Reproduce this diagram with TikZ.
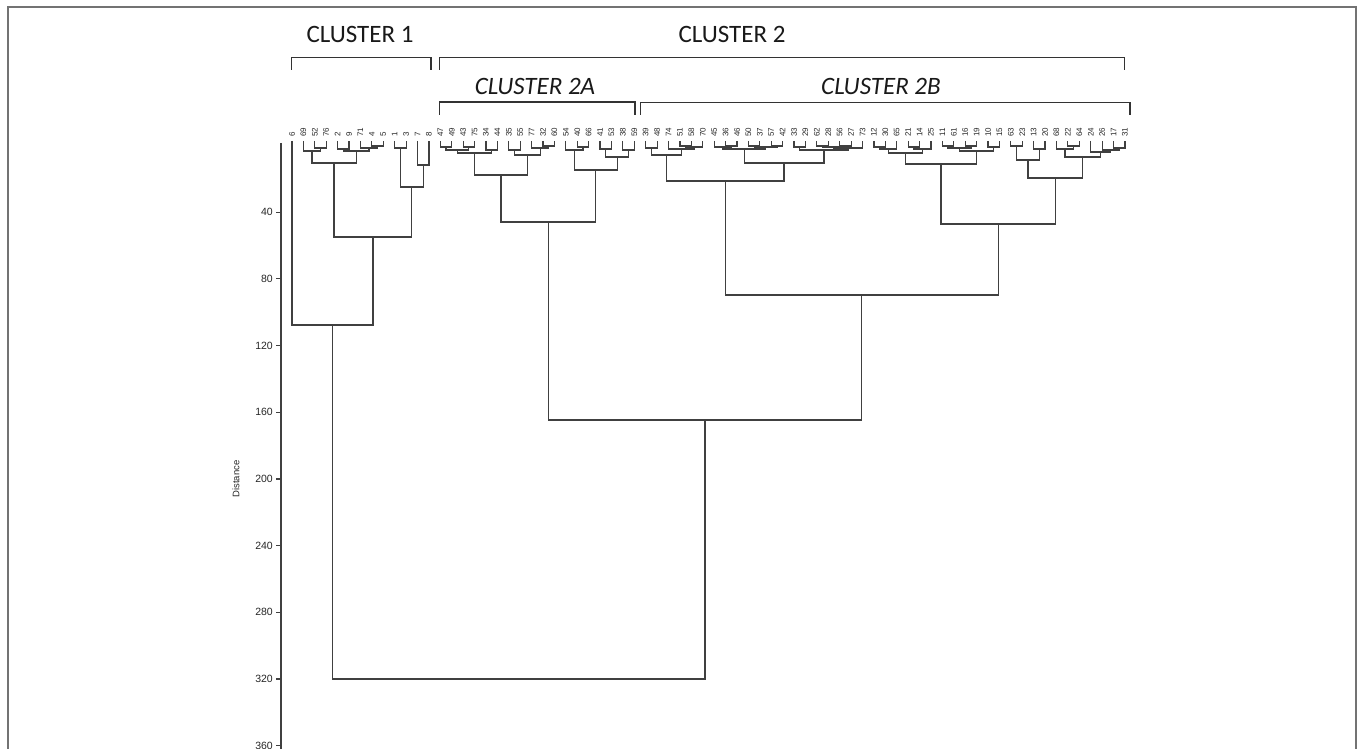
\documentclass[tikz,border=0pt]{standalone}
\usepackage{fontspec}
\setmainfont{Liberation Sans}
\newfontfamily\calib{Carlito}
\usetikzlibrary{calc}
\tikzset{
  tree/.style={draw=black!75, line width=1.2pt},
  brk/.style={draw=black!80, line width=1.5pt},
  framel/.style={draw=black!55, line width=1.6pt},
  leaflab/.style={rotate=90, anchor=west, inner sep=0pt, font=\fontsize{8}{9}\selectfont, text=black!85},
  ticklab/.style={anchor=east, inner sep=0pt, font=\fontsize{10.5}{12}\selectfont, text=black!85},
  clab/.style={inner sep=0pt, font=\calib\fontsize{25}{30}\selectfont, text=black!90},
  clabi/.style={inner sep=0pt, font=\calib\itshape\fontsize{25}{30}\selectfont, text=black!90},
}
\newcommand\mrg[4]{%
  \coordinate (tmpm) at ($(#2)!0.5!(#3)$);
  \coordinate (tmph) at (0,#4);
  \coordinate (#1) at (tmpm |- tmph);
  \draw[tree] (#2) -- (#2 |- #1) -- (#3 |- #1) -- (#3);
}
\begin{document}
\begin{tikzpicture}[x=1pt, y=-1pt]
\useasboundingbox (0,0) rectangle (1357,749);
% frame
\draw[framel] (8,760) -- (8,7) -- (1356,7) -- (1356,760);
% cluster labels and brackets
\node[clab] (c1) at (360,34) {CLUSTER 1};
\node[clab] (c2) at (732,34) {CLUSTER 2};
\node[clabi] (c2a) at (535,86) {CLUSTER 2A};
\node[clabi] (c2b) at (881,86) {CLUSTER 2B};
\draw[brk] (291.7,70) -- (291.7,57.5) -- (431,57.5) -- (431,70);
\draw[brk] (439.3,70) -- (439.3,57.5) -- (1124.5,57.5) -- (1124.5,70);
\draw[brk] (439.3,115) -- (439.3,102) -- (635,102) -- (635,115);
\draw[brk] (640.7,115) -- (640.7,102.5) -- (1130,102.5) -- (1130,115);
% axis
\draw[tree] (281,143) -- (281,760);
\foreach \d in {40,80,...,360} {
  \draw[tree] (276,{145.5+1.667*\d}) -- (281,{145.5+1.667*\d});
  \node[ticklab] (t\d) at (273,{145.5+1.667*\d}) {\d};
}
\node[rotate=90, inner sep=0pt, font=\fontsize{9.5}{11}\selectfont, text=black!85] (dist) at (236,479) {Distance};
% leaves
\foreach \lab [count=\i from 0] in {6,69,52,76,2,9,71,4,5,1,3,7,8,47,49,43,75,34,44,35,55,77,32,60,54,40,66,41,53,38,59,39,48,74,51,58,70,45,36,46,50,37,57,42,33,29,62,28,56,27,73,12,30,65,21,14,25,11,61,16,19,10,15,63,23,13,20,68,22,64,24,26,17,31} {
  \coordinate (n\lab) at ({292+11.41*\i},141);
  \node[leaflab] (l\lab) at ({292+11.41*\i},137) {\lab};
}
% cluster 1
\mrg{a1}{n52}{n76}{148}
\mrg{a2}{n69}{a1}{151}
\mrg{b1}{n2}{n9}{149}
\mrg{b2}{n4}{n5}{146}
\mrg{b3}{n71}{b2}{148}
\mrg{b4}{b1}{b3}{151}
\mrg{c1m}{a2}{b4}{163}
\mrg{d1}{n1}{n3}{148}
\mrg{d2}{n7}{n8}{165}
\mrg{d3}{d1}{d2}{187}
\mrg{e1}{c1m}{d3}{237}
\mrg{C1}{n6}{e1}{325}
% cluster 2A
\mrg{g1}{n47}{n49}{147}
\mrg{g2}{n43}{n75}{147}
\mrg{g3}{g1}{g2}{150}
\mrg{g4}{n34}{n44}{150}
\mrg{f}{g3}{g4}{153}
\mrg{h1}{n35}{n55}{150}
\mrg{h2}{n32}{n60}{146}
\mrg{h3}{n77}{h2}{148}
\mrg{h}{h1}{h3}{155}
\mrg{f2}{f}{h}{175}
\mrg{k1}{n40}{n66}{147}
\mrg{k2}{n54}{k1}{150}
\mrg{m1}{n41}{n53}{149}
\mrg{m2}{n38}{n59}{150}
\mrg{m3}{m1}{m2}{157}
\mrg{k3}{k2}{m3}{170}
\mrg{C2A}{f2}{k3}{222}
% cluster 2B left
\mrg{p1}{n39}{n48}{148}
\mrg{p2}{n51}{n58}{146}
\mrg{p3}{p2}{n70}{147}
\mrg{p4}{n74}{p3}{149}
\mrg{p5}{p1}{p4}{155}
\mrg{q1}{n36}{n46}{146}
\mrg{q2}{n45}{q1}{147}
\mrg{q3}{n50}{n37}{146}
\mrg{q4}{n57}{n42}{146}
\mrg{q5}{q3}{q4}{147}
\mrg{q6}{q2}{q5}{149}
\mrg{r1}{n33}{n29}{147}
\mrg{r2}{n62}{n28}{146}
\mrg{r3}{n56}{n27}{146}
\mrg{r4}{r2}{r3}{147}
\mrg{r5}{r4}{n73}{148}
\mrg{r6}{r1}{r5}{150}
\mrg{s}{q6}{r6}{163}
\mrg{t}{p5}{s}{181}
% cluster 2B right
\mrg{u1}{n12}{n30}{147}
\mrg{u2}{u1}{n65}{149}
\mrg{u3}{n21}{n14}{147}
\mrg{u4}{u3}{n25}{149}
\mrg{u5}{u2}{u4}{153}
\mrg{v1}{n11}{n61}{146}
\mrg{v2}{n16}{n19}{146}
\mrg{v3}{v1}{v2}{148}
\mrg{v4}{n10}{n15}{147}
\mrg{v5}{v3}{v4}{151}
\mrg{w}{u5}{v5}{164}
\mrg{x1}{n63}{n23}{146}
\mrg{x2}{n13}{n20}{149}
\mrg{x3}{x1}{x2}{160}
\mrg{y1}{n22}{n64}{146}
\mrg{y2}{n68}{y1}{149}
\mrg{y3}{n17}{n31}{148}
\mrg{y4}{n26}{y3}{150}
\mrg{y5}{n24}{y4}{152}
\mrg{y6}{y2}{y5}{157}
\mrg{z}{x3}{y6}{178}
\mrg{zz}{w}{z}{224}
\mrg{C2B}{t}{zz}{295}
\mrg{C2}{C2A}{C2B}{420}
\mrg{root}{C1}{C2}{679}
\end{tikzpicture}
\end{document}
